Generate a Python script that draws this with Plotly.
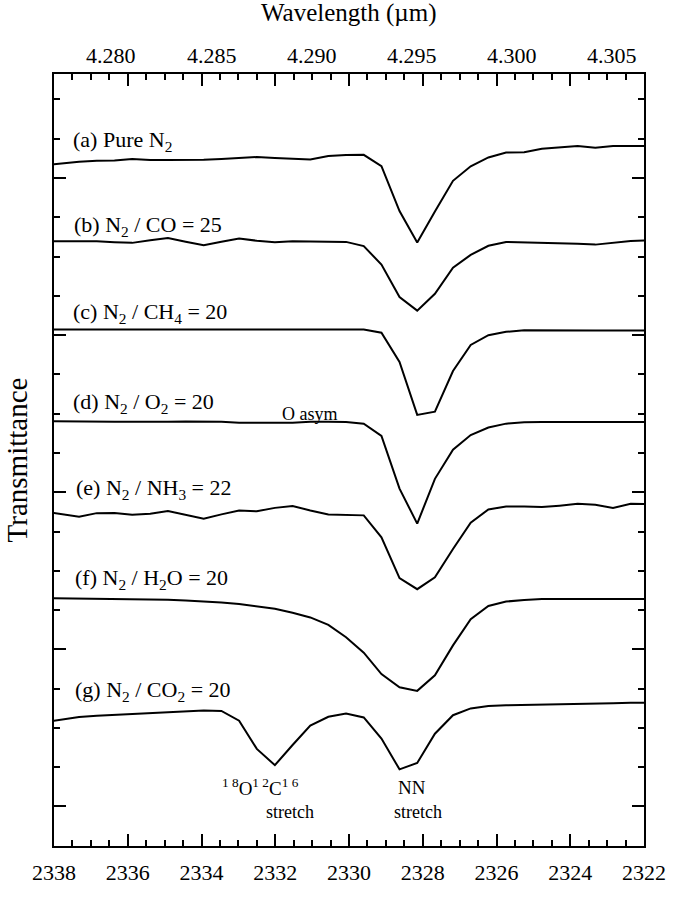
import plotly.graph_objects as go

# Wavenumber sampling (cm^-1)
wavenumber = [2338.29, 2337.81, 2337.32, 2336.84, 2336.36, 2335.88, 2335.39, 2334.91,
              2334.43, 2333.94, 2333.46, 2332.98, 2332.50, 2332.01, 2331.53, 2331.05,
              2330.56, 2330.08, 2329.60, 2329.12, 2328.63, 2328.15, 2327.67, 2327.18,
              2326.70, 2326.22, 2325.74, 2325.25, 2324.77, 2324.29, 2323.80, 2323.32,
              2322.84, 2322.36, 2321.87]

# Offset transmittance (arbitrary units, stacked spectra)
t_pure_n2 = [699, 701, 702.5, 703.5, 704, 705.3, 704.5, 704.5, 704.5, 704.7, 705.5, 706.3,
             707.5, 706.5, 705.5, 705, 708.5, 709.5, 709.7, 698, 652, 619.7, 651.5, 683,
             698, 707, 712, 712.3, 716, 717.5, 718.7, 717, 718.7, 718.7, 718.7]
t_n2_co = [621, 621, 620.5, 621, 620, 619.3, 622, 624.3, 620.5, 617, 620.5, 623.7,
           621.5, 620, 621, 621, 621, 620.3, 616, 597, 563.7, 549.7, 567, 593.7,
           607, 616.3, 620.3, 620, 619.3, 619, 618.5, 617.5, 619.3, 621.3, 622]
t_n2_ch4 = [530.3, 530.3, 530.3, 530.4, 530.4, 530.4, 530.3, 530.3, 530.3, 530.3, 530.3, 530.3,
            530.3, 530.3, 530.3, 530.3, 530.4, 530.5, 530.3, 527, 497, 442.7, 446, 487.7,
            514.5, 524.5, 528, 529.5, 529.3, 529.3, 529.3, 529.3, 529.3, 529.3, 529.3]
t_n2_o2 = [436.3, 436.3, 436, 436, 435.7, 435.5, 435.3, 435.5, 435.8, 436, 435.5, 434.7,
           434.3, 434.5, 434.7, 435.5, 435.5, 435.3, 433.7, 421, 367, 331, 377, 407,
           422, 429.7, 433.7, 435, 435.3, 435.3, 435.3, 435.3, 435.3, 435.3, 435.3]
t_n2_nh3 = [343.5, 341, 338, 341.8, 342, 340.2, 341.2, 344, 340, 336, 340.5, 344.5,
            343.7, 347.2, 349.2, 344.5, 340.5, 340, 339.5, 317, 275, 263.7, 276, 305,
            332, 345.5, 348.7, 348.5, 348, 349.5, 351.3, 350.5, 347, 351.3, 351]
t_n2_h2o = [254.5, 254.3, 254.2, 254, 253.8, 253.7, 253.4, 252.8, 252, 251.2, 250, 248.5,
            246.3, 243.5, 239.5, 234.7, 227, 214.3, 198.5, 176.5, 163, 159.3, 175.3, 206,
            233, 246.5, 251, 252.7, 253.5, 253.7, 253.7, 253.7, 253.7, 253.7, 253.7]
t_n2_co2 = [127, 130, 132.5, 133.7, 134.7, 135.7, 136.5, 137.7, 138.5, 139.2, 138.7, 128.7,
            99.7, 83, 103.7, 123.7, 132.7, 136, 132, 110.3, 78.7, 85.3, 115.3, 134.3,
            141.3, 143.7, 144.5, 145, 145.3, 145.7, 146, 146.3, 146.7, 147, 147]

series = [t_pure_n2, t_n2_co, t_n2_ch4, t_n2_o2, t_n2_nh3, t_n2_h2o, t_n2_co2]

labels = ["(a) Pure N<sub>2</sub>",
          "(b) N<sub>2</sub> / CO = 25",
          "(c) N<sub>2</sub> / CH<sub>4</sub> = 20",
          "(d) N<sub>2</sub> / O<sub>2</sub> = 20",
          "(e) N<sub>2</sub> / NH<sub>3</sub> = 22",
          "(f) N<sub>2</sub> / H<sub>2</sub>O = 20",
          "(g) N<sub>2</sub> / CO<sub>2</sub> = 20"]
label_x = [2337.55, 2337.50, 2337.55, 2337.53, 2337.45, 2337.48, 2337.48]
label_y = [724, 637, 547, 454.5, 367, 274, 159]

wavenumber_ticks = [2338, 2336, 2334, 2332, 2330, 2328, 2326, 2324, 2322]
wavelength_ticks = [4.280, 4.285, 4.290, 4.295, 4.300, 4.305]
wavelength_text = ["4.280", "4.285", "4.290", "4.295", "4.300", "4.305"]

FONT = "Liberation Serif"

fig = go.Figure()
for s in series:
    fig.add_trace(go.Scatter(x=wavenumber, y=s, mode="lines",
                             line=dict(color="black", width=2), showlegend=False))

# top (wavelength) scale labels, placed at wavenumber = 1e4 / wavelength
for w, t in zip(wavelength_ticks, wavelength_text):
    fig.add_annotation(x=1e4 / w, xref="x", y=1, yref="paper", yanchor="middle",
                       yshift=19, text=t, showarrow=False,
                       font=dict(family=FONT, size=22, color="black"))
fig.add_annotation(x=0.5, xref="paper", y=1, yref="paper", yanchor="middle", yshift=61,
                   text="Wavelength (µm)", showarrow=False,
                   font=dict(family=FONT, size=25, color="black"))

for txt, lx, ly in zip(labels, label_x, label_y):
    fig.add_annotation(x=lx, y=ly, text=txt, showarrow=False, xanchor="left",
                       yanchor="middle", font=dict(family=FONT, size=22, color="black"))

fig.add_annotation(x=2331.07, y=444, text="O asym", showarrow=False,
                   font=dict(family=FONT, size=18, color="black"))
fig.add_annotation(x=2332.41, y=60.3, text="<sup>1 8</sup>O<sup>1 2</sup>C<sup>1 6</sup>",
                   showarrow=False, font=dict(family=FONT, size=19, color="black"))
fig.add_annotation(x=2331.6, y=35.3, text="stretch", showarrow=False,
                   font=dict(family=FONT, size=18, color="black"))
fig.add_annotation(x=2328.28, y=60.3, text="NN", showarrow=False,
                   font=dict(family=FONT, size=19, color="black"))
fig.add_annotation(x=2328.12, y=35.3, text="stretch", showarrow=False,
                   font=dict(family=FONT, size=18, color="black"))

fig.update_layout(
    width=678, height=897,
    margin=dict(l=54, r=27, t=74, b=30),
    paper_bgcolor="white", plot_bgcolor="white",
    font=dict(family=FONT, color="black"),
    xaxis=dict(range=[2338, 2322], tickmode="array", tickvals=wavenumber_ticks,
               ticks="inside", ticklen=12, tickwidth=1.5, tickcolor="black",
               showline=True, linewidth=2, linecolor="black", mirror="ticks",
               showgrid=False, zeroline=False,
               tickfont=dict(family=FONT, size=22, color="black"),
               ticklabelstandoff=6,
               minor=dict(tickmode="linear", tick0=2322, dtick=0.5, ticks="inside",
                          ticklen=6, tickwidth=1.5, tickcolor="black", showgrid=False)),
    yaxis=dict(range=[0, 792.7], tickmode="linear", tick0=40.6, dtick=161.33,
               ticks="inside", ticklen=12, tickwidth=1.5, tickcolor="black",
               showticklabels=False, showline=True, linewidth=2, linecolor="black",
               mirror="ticks", showgrid=False, zeroline=False,
               minor=dict(tickmode="linear", tick0=40.6, dtick=40.33, ticks="inside",
                          ticklen=6, tickwidth=1.5, tickcolor="black", showgrid=False),
               title=dict(text="Transmittance", font=dict(family=FONT, size=29, color="black"),
                          standoff=16)),
)

fig.write_html("out.html")
